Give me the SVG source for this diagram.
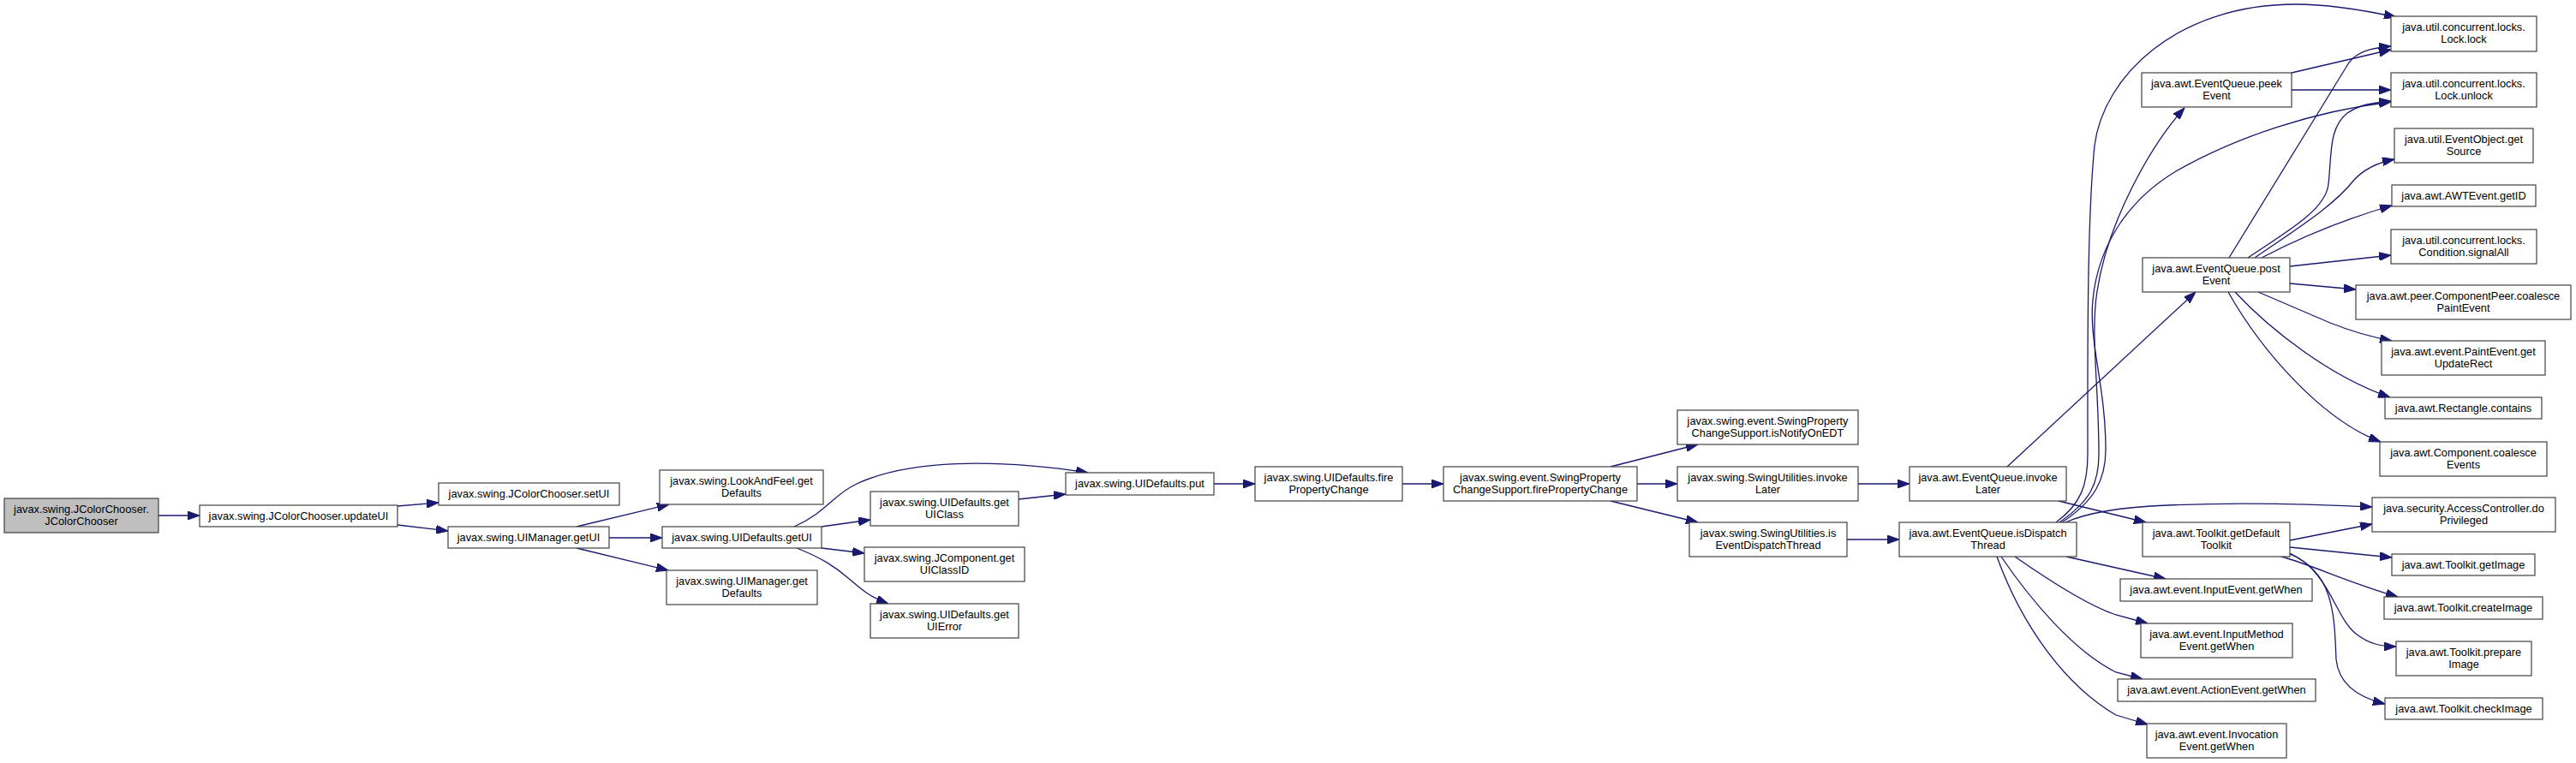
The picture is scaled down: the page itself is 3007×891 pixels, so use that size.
<svg xmlns="http://www.w3.org/2000/svg" width="3007" height="891" viewBox="0 0 3007 891">
<defs>
<style>
.n rect{fill:#ffffff;stroke:#404040;stroke-width:1.2}
.root rect{fill:#bfbfbf;stroke:#404040;stroke-width:1.2}
text{font-family:"Liberation Sans",Arial,sans-serif;font-size:12.8px;fill:#000;text-anchor:middle}
.e path{fill:none;stroke:#191970;stroke-width:1.3;marker-end:url(#ah)}
</style>
<marker id="ah" markerUnits="userSpaceOnUse" markerWidth="14" markerHeight="10" refX="14" refY="5" orient="auto">
<path d="M0,0 L14,5 L0,10 z" fill="#191970" stroke="#191970" stroke-width="1"/>
</marker>
</defs>
<rect width="3007" height="891" fill="#ffffff"/>
<g class="e" id="edges">
<path d="M185,602 L233,602"/>
<path d="M464,591 L512,587"/>
<path d="M464,613 L523,620"/>
<path d="M673,615 L781,589"/>
<path d="M711,628 L773,628"/>
<path d="M673,640 L780,666"/>
<path d="M927,615 C965,598 972,578 1000,565 C1060,537 1160,535 1270,552"/>
<path d="M959,615 L1016,607"/>
<path d="M959,640 L1009,646"/>
<path d="M930,640 C960,652 975,662 990,675 C1005,688 1015,697 1037,705"/>
<path d="M1189,583 L1244,577"/>
<path d="M1417,565 L1465,565"/>
<path d="M1637,565 L1685,565"/>
<path d="M1880,545 L1982,519"/>
<path d="M1911,565 L1958,565"/>
<path d="M1880,585 L1982,610"/>
<path d="M2169,565 L2229,565"/>
<path d="M2156,630 L2217,630"/>
<path d="M2343,545 L2563,341"/>
<path d="M2403,585 L2505,610"/>
<path d="M2400,610 C2430,588 2437,565 2437,530 C2437,420 2436,260 2445,170 C2455,90 2540,5 2680,5 C2720,5 2760,12 2797,20"/>
<path d="M2404,610 C2440,585 2450,565 2450,530 C2450,450 2440,390 2448,340 C2460,260 2510,170 2550,126"/>
<path d="M2407,610 C2445,585 2458,560 2458,525 C2458,450 2438,400 2443,350 C2450,280 2490,230 2540,200 C2610,160 2700,130 2791,119"/>
<path d="M2411,610 C2440,597 2480,592 2530,590 C2620,586 2700,589 2769,592"/>
<path d="M2412,650 L2528,676"/>
<path d="M2352,650 C2395,680 2440,708 2470,718 L2507,728"/>
<path d="M2336,650 C2370,700 2420,760 2470,785 L2501,793"/>
<path d="M2331,650 C2360,730 2410,800 2470,835 L2507,846"/>
<path d="M2675,85 L2791,58"/>
<path d="M2675,105 L2791,105"/>
<path d="M2602,301 L2742,73 C2752,60 2768,56 2791,54"/>
<path d="M2624,301 C2670,270 2715,245 2718,215 C2722,180 2718,150 2740,132 C2755,122 2770,120 2791,118"/>
<path d="M2632,301 C2680,268 2725,240 2748,210 C2760,197 2775,190 2795,186"/>
<path d="M2640,301 C2680,280 2730,258 2792,240"/>
<path d="M2673,311 L2791,298"/>
<path d="M2673,331 L2750,338"/>
<path d="M2636,341 L2720,377 C2745,387 2765,393 2792,398"/>
<path d="M2609,341 C2650,385 2720,440 2790,464"/>
<path d="M2601,341 C2640,410 2710,490 2779,516"/>
<path d="M2673,631 L2769,612"/>
<path d="M2673,639 L2792,651"/>
<path d="M2663,650 C2700,660 2740,680 2799,697"/>
<path d="M2673,646 C2720,668 2725,720 2750,740 C2765,752 2780,755 2797,755"/>
<path d="M2673,647 C2725,668 2725,720 2727,770 C2730,800 2755,815 2784,822"/>
</g>
<g id="n0" class="root"><rect x="5" y="582" width="180" height="40"/><text x="95" y="598.5">javax.swing.JColorChooser.</text><text x="95" y="612.5">JColorChooser</text></g>
<g id="n1" class="n"><rect x="233" y="590" width="231" height="25"/><text x="348.5" y="606.5">javax.swing.JColorChooser.updateUI</text></g>
<g id="n2" class="n"><rect x="512" y="564" width="211" height="26"/><text x="617.5" y="580.5">javax.swing.JColorChooser.setUI</text></g>
<g id="n3" class="n"><rect x="523" y="615" width="188" height="25"/><text x="617" y="631.5">javax.swing.UIManager.getUI</text></g>
<g id="n4" class="n"><rect x="770" y="549" width="191" height="40"/><text x="865.5" y="565.5">javax.swing.LookAndFeel.get</text><text x="865.5" y="579.5">Defaults</text></g>
<g id="n5" class="n"><rect x="773" y="615" width="186" height="25"/><text x="866" y="631.5">javax.swing.UIDefaults.getUI</text></g>
<g id="n6" class="n"><rect x="778" y="666" width="176" height="40"/><text x="866" y="682.5">javax.swing.UIManager.get</text><text x="866" y="696.5">Defaults</text></g>
<g id="n7" class="n"><rect x="1244" y="552" width="173" height="26"/><text x="1330.5" y="568.5">javax.swing.UIDefaults.put</text></g>
<g id="n8" class="n"><rect x="1016" y="574" width="173" height="40"/><text x="1102.5" y="590.5">javax.swing.UIDefaults.get</text><text x="1102.5" y="604.5">UIClass</text></g>
<g id="n9" class="n"><rect x="1009" y="639" width="187" height="40"/><text x="1102.5" y="655.5">javax.swing.JComponent.get</text><text x="1102.5" y="669.5">UIClassID</text></g>
<g id="n10" class="n"><rect x="1016" y="705" width="173" height="40"/><text x="1102.5" y="721.5">javax.swing.UIDefaults.get</text><text x="1102.5" y="735.5">UIError</text></g>
<g id="n11" class="n"><rect x="1465" y="545" width="172" height="40"/><text x="1551" y="561.5">javax.swing.UIDefaults.fire</text><text x="1551" y="575.5">PropertyChange</text></g>
<g id="n12" class="n"><rect x="1685" y="545" width="226" height="40"/><text x="1798" y="561.5">javax.swing.event.SwingProperty</text><text x="1798" y="575.5">ChangeSupport.firePropertyChange</text></g>
<g id="n13" class="n"><rect x="1958" y="479" width="211" height="40"/><text x="2063.5" y="495.5">javax.swing.event.SwingProperty</text><text x="2063.5" y="509.5">ChangeSupport.isNotifyOnEDT</text></g>
<g id="n14" class="n"><rect x="1958" y="545" width="211" height="40"/><text x="2063.5" y="561.5">javax.swing.SwingUtilities.invoke</text><text x="2063.5" y="575.5">Later</text></g>
<g id="n15" class="n"><rect x="1972" y="610" width="184" height="40"/><text x="2064" y="626.5">javax.swing.SwingUtilities.is</text><text x="2064" y="640.5">EventDispatchThread</text></g>
<g id="n16" class="n"><rect x="2229" y="545" width="183" height="40"/><text x="2320.5" y="561.5">java.awt.EventQueue.invoke</text><text x="2320.5" y="575.5">Later</text></g>
<g id="n17" class="n"><rect x="2217" y="610" width="207" height="40"/><text x="2320.5" y="626.5">java.awt.EventQueue.isDispatch</text><text x="2320.5" y="640.5">Thread</text></g>
<g id="n18" class="n"><rect x="2500" y="85" width="175" height="40"/><text x="2587.5" y="101.5">java.awt.EventQueue.peek</text><text x="2587.5" y="115.5">Event</text></g>
<g id="n19" class="n"><rect x="2501" y="301" width="172" height="40"/><text x="2587" y="317.5">java.awt.EventQueue.post</text><text x="2587" y="331.5">Event</text></g>
<g id="n20" class="n"><rect x="2501" y="610" width="172" height="40"/><text x="2587" y="626.5">java.awt.Toolkit.getDefault</text><text x="2587" y="640.5">Toolkit</text></g>
<g id="n21" class="n"><rect x="2475" y="676" width="224" height="26"/><text x="2587" y="692.5">java.awt.event.InputEvent.getWhen</text></g>
<g id="n22" class="n"><rect x="2499" y="728" width="177" height="40"/><text x="2587.5" y="744.5">java.awt.event.InputMethod</text><text x="2587.5" y="758.5">Event.getWhen</text></g>
<g id="n23" class="n"><rect x="2472" y="793" width="231" height="26"/><text x="2587.5" y="809.5">java.awt.event.ActionEvent.getWhen</text></g>
<g id="n24" class="n"><rect x="2506" y="845" width="163" height="40"/><text x="2587.5" y="861.5">java.awt.event.Invocation</text><text x="2587.5" y="875.5">Event.getWhen</text></g>
<g id="n25" class="n"><rect x="2791" y="19" width="170" height="41"/><text x="2876" y="35.5">java.util.concurrent.locks.</text><text x="2876" y="49.5">Lock.lock</text></g>
<g id="n26" class="n"><rect x="2791" y="85" width="170" height="40"/><text x="2876" y="101.5">java.util.concurrent.locks.</text><text x="2876" y="115.5">Lock.unlock</text></g>
<g id="n27" class="n"><rect x="2795" y="150" width="162" height="40"/><text x="2876" y="166.5">java.util.EventObject.get</text><text x="2876" y="180.5">Source</text></g>
<g id="n28" class="n"><rect x="2792" y="216" width="168" height="25"/><text x="2876" y="232.5">java.awt.AWTEvent.getID</text></g>
<g id="n29" class="n"><rect x="2791" y="268" width="170" height="40"/><text x="2876" y="284.5">java.util.concurrent.locks.</text><text x="2876" y="298.5">Condition.signalAll</text></g>
<g id="n30" class="n"><rect x="2750" y="333" width="251" height="40"/><text x="2875.5" y="349.5">java.awt.peer.ComponentPeer.coalesce</text><text x="2875.5" y="363.5">PaintEvent</text></g>
<g id="n31" class="n"><rect x="2780" y="398" width="191" height="40"/><text x="2875.5" y="414.5">java.awt.event.PaintEvent.get</text><text x="2875.5" y="428.5">UpdateRect</text></g>
<g id="n32" class="n"><rect x="2784" y="464" width="183" height="25"/><text x="2875.5" y="480.5">java.awt.Rectangle.contains</text></g>
<g id="n33" class="n"><rect x="2778" y="516" width="195" height="40"/><text x="2875.5" y="532.5">java.awt.Component.coalesce</text><text x="2875.5" y="546.5">Events</text></g>
<g id="n34" class="n"><rect x="2769" y="581" width="214" height="40"/><text x="2876" y="597.5">java.security.AccessController.do</text><text x="2876" y="611.5">Privileged</text></g>
<g id="n35" class="n"><rect x="2792" y="647" width="167" height="25"/><text x="2875.5" y="663.5">java.awt.Toolkit.getImage</text></g>
<g id="n36" class="n"><rect x="2783" y="697" width="185" height="26"/><text x="2875.5" y="713.5">java.awt.Toolkit.createImage</text></g>
<g id="n37" class="n"><rect x="2797" y="749" width="158" height="40"/><text x="2876" y="765.5">java.awt.Toolkit.prepare</text><text x="2876" y="779.5">Image</text></g>
<g id="n38" class="n"><rect x="2784" y="815" width="184" height="25"/><text x="2876" y="831.5">java.awt.Toolkit.checkImage</text></g>
</svg>
